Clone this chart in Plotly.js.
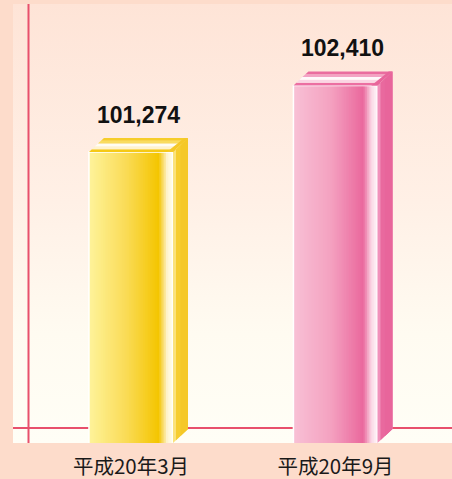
<!DOCTYPE html>
<html>
<head>
<meta charset="utf-8">
<script src="https://cdn.plot.ly/plotly-3.0.1.min.js"></script>
<style>
  html, body { margin:0; padding:0; background:#fddccb; }
  #wrap { position:relative; width:452px; height:479px; overflow:hidden; }
  #panel { position:absolute; left:13px; top:4px; width:439px; height:439px;
           background:linear-gradient(to bottom, #fee4d7 0%, #fff0e6 45%, #fffbf1 75%, #fffef6 100%); }
  #plot { position:absolute; left:0; top:0; width:452px; height:479px; }
</style>
</head>
<body>
<div id="wrap"><div id="panel"></div><div id="plot"></div></div>
<script>
// ---- data ----
const categories = ['平成20年3月', '平成20年9月'];
const values = [101274, 102410];
const valueLabels = ['101,274', '102,410'];

// ---- styling ----
const frontStops = [
  [[0,'#fef39b'],[0.45,'#fadb55'],[0.83,'#f4c500'],[0.93,'#fef3cf'],[1,'#fffdf0']],
  [[0,'#f8c1d5'],[0.45,'#f4a1c0'],[0.83,'#ea689d'],[0.93,'#fbd9e6'],[1,'#fff6fa']]
];
const sideColors = [['#fbe27a','#f6cd30','#f5c828'], ['#f191bb','#e9699e','#e8659b']];
const topBands = [
  ['#f5c915','#fff3cf','#fffdf4','#f9dc60','#f6cd2a'],
  ['#ec6fa2','#fbd6e4','#fff8fb','#f3a3c4','#ea6c9f']
];

const Y0 = 96303, Y1 = 103801;       // value axis window
const X0 = -0.577, X1 = 1.570;
const W = 0.411;                     // front face width (x units)
const DX = 0.0733, DY = 240;         // depth offsets
const N = 48;

function hex2rgb(h){ return [1,3,5].map(i=>parseInt(h.substr(i,2),16)); }
function interp(stops, t){
  for (let i=0;i<stops.length-1;i++){
    const [t0,c0]=stops[i], [t1,c1]=stops[i+1];
    if (t>=t0 && t<=t1){
      const f=(t-t0)/(t1-t0), a=hex2rgb(c0), b=hex2rgb(c1);
      return 'rgb('+a.map((v,k)=>Math.round(v+(b[k]-v)*f)).join(',')+')';
    }
  }
  return stops[stops.length-1][1];
}

const traces = [];
// front faces: overlapping strips, each running to the right edge (no seams)
const fx=[], fy=[], foff=[], fw=[], fc=[];
categories.forEach((c, ci) => {
  for (let i=0;i<N;i++){
    fx.push(ci); fy.push(values[ci]);
    foff.push(-W/2 + i*W/N); fw.push(W - i*W/N);
    fc.push(interp(frontStops[ci], (i+0.5)/N));
  }
});
traces.push({type:'bar', x:fx, y:fy, offset:foff, width:fw,
  marker:{color:fc, line:{width:0}}, hoverinfo:'skip', showlegend:false});
// white outline of front faces
traces.push({type:'bar', x:categories.map((c,i)=>i), y:values, offset:-W/2, width:W,
  marker:{color:'rgba(0,0,0,0)', line:{color:'#ffffff', width:1.5}}, hoverinfo:'skip', showlegend:false});

// side faces
categories.forEach((c, ci) => {
  const v = values[ci], xr = ci + W/2;
  const cols = sideColors[ci];
  const cuts = [0, 0.2, 0.5, 1];
  for (let k=0;k<3;k++){
    const a = xr + cuts[k]*DX, b = xr + DX;
    const ya = cuts[k]*DY;
    traces.push({type:'scatter', mode:'lines', fill:'toself', fillcolor:cols[k],
      line:{width:0, color:cols[k]},
      x:[a, a, b, b, a], y:[Y0+ya, v+ya, v+DY, Y0+DY, Y0+ya],
      hoverinfo:'skip', showlegend:false});
  }
  // top face bands
  const bands = topBands[ci], xl = ci - W/2;
  const nb = bands.length;
  for (let j=0;j<nb;j++){
    const s0=j/nb, s1=(j+1)/nb;
    traces.push({type:'scatter', mode:'lines', fill:'toself', fillcolor:bands[j],
      line:{width:0, color:bands[j]},
      x:[xl+s0*DX, xr+s0*DX, xr+s1*DX, xl+s1*DX, xl+s0*DX],
      y:[v+s0*DY, v+s0*DY, v+s1*DY, v+s1*DY, v+s0*DY],
      hoverinfo:'skip', showlegend:false});
  }
  // right end of top face in side colour
  traces.push({type:'scatter', mode:'lines', fill:'toself', fillcolor:cols[2],
    line:{width:0, color:cols[2]},
    x:[xr-0.03, xr, xr+DX, xr+DX-0.018, xr-0.03],
    y:[v, v, v+DY, v+DY, v],
    hoverinfo:'skip', showlegend:false});
});

const annotations = categories.map((c, ci) => ({
  x: ci + DX/2, y: values[ci] + DY, xref:'x', yref:'y',
  text: '<b>' + valueLabels[ci] + '</b>', showarrow:false, yanchor:'middle', yshift:23,
  font:{family:'Liberation Sans, Arial, sans-serif', size:23, color:'#111111'}
}));

const layout = {
  width:452, height:479,
  margin:{l:13, r:0, t:4, b:36, pad:0},
  paper_bgcolor:'rgba(0,0,0,0)', plot_bgcolor:'rgba(0,0,0,0)',
  barmode:'overlay', showlegend:false, hovermode:false,
  xaxis:{range:[X0, X1], tickvals:categories.map((c,i)=>i), ticktext:categories,
    showgrid:false, zeroline:false, showline:false, ticks:'outside', ticklen:5,
    tickcolor:'rgba(0,0,0,0)', fixedrange:true,
    tickfont:{family:'Noto Sans CJK JP, sans-serif', size:20.5, color:'#1a1a1a'}},
  yaxis:{range:[Y0, Y1], visible:false, fixedrange:true},
  shapes:[
    {type:'line', xref:'paper', yref:'paper', x0:0, x1:1, y0:15/439, y1:15/439,
     line:{color:'#e8506c', width:2}, layer:'below'},
    {type:'line', xref:'paper', yref:'paper', x0:15.5/439, x1:15.5/439, y0:0, y1:1,
     line:{color:'#e8506c', width:2}, layer:'below'}
  ],
  annotations: annotations
};

Plotly.newPlot('plot', traces, layout, {displayModeBar:false, staticPlot:true});
</script>
</body>
</html>
